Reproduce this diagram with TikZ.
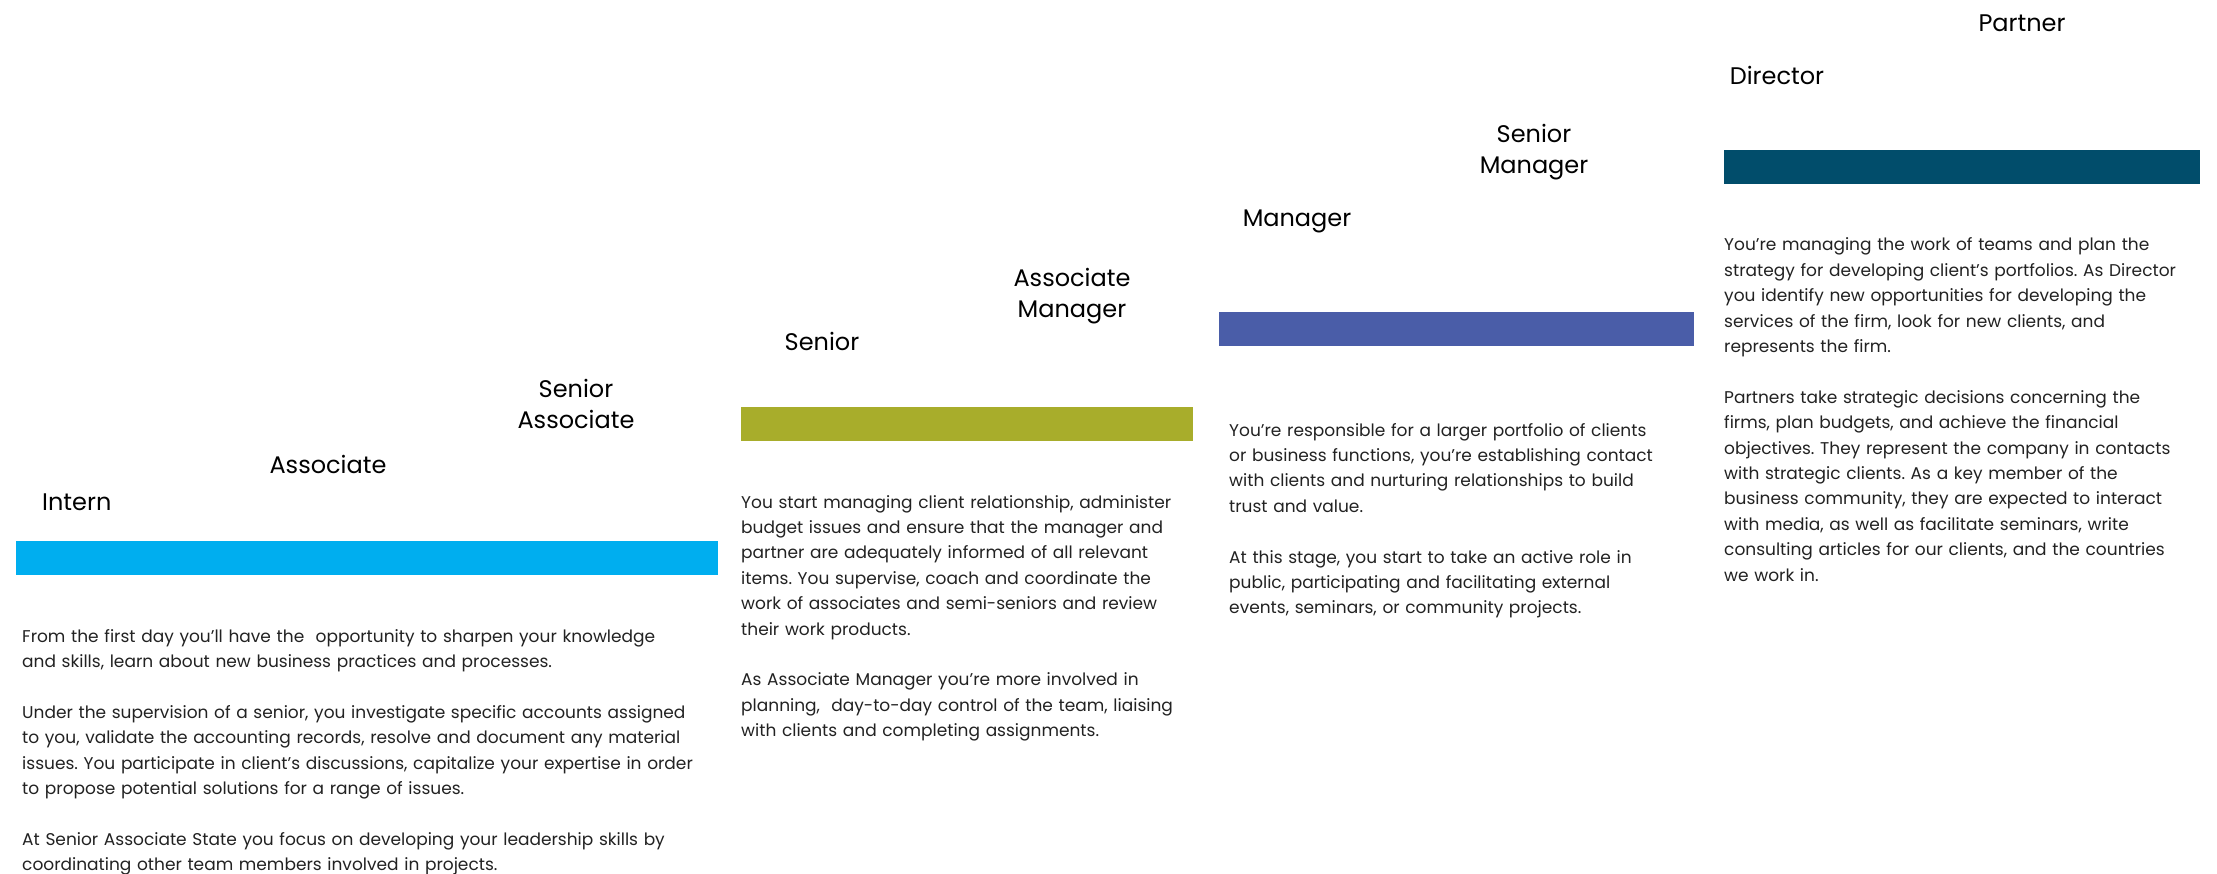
\documentclass[tikz,border=0pt]{standalone}
\usepackage{fontspec}
\setmainfont{Poppins}
\usepackage{tikz}

\definecolor{barcyan}{HTML}{00AEEF}
\definecolor{barolive}{HTML}{A8AD2B}
\definecolor{barindigo}{HTML}{4A5DA8}
\definecolor{barteal}{HTML}{014D6B}
\definecolor{textgray}{HTML}{222222}

\tikzset{
  stagebar/.style={fill=#1, draw=none, inner sep=0pt, minimum height=34pt, anchor=north west},
  stagelabel/.style={font=\fontsize{24}{31}\selectfont, align=center, inner sep=0pt},
  stagetext/.style={font=\fontsize{17}{25.4}\selectfont\frenchspacing, text=textgray,
    align=left, text width=#1, inner sep=0pt, anchor=base west},
}

\begin{document}
\begin{tikzpicture}[x=1pt, y=-1pt]
  \useasboundingbox[fill=white] (0,0) rectangle (2217,874);
  % bars
  \node[stagebar=barcyan,   minimum width=702pt] (barintern)   at (16,541)   {};
  \node[stagebar=barolive,  minimum width=452pt] (barsenior)   at (741,407)  {};
  \node[stagebar=barindigo, minimum width=475pt] (barmanager)  at (1219,312) {};
  \node[stagebar=barteal,   minimum width=476pt] (bardirector) at (1724,150) {};
  % titles
  \node[stagelabel, anchor=west] (intern)   at (42,502)   {Intern};
  \node[stagelabel] (associate)             at (328,464)  {Associate};
  \node[stagelabel] (seniorassociate)       at (576,404)  {Senior\\Associate};
  \node[stagelabel] (senior)                at (822,341)  {Senior};
  \node[stagelabel] (associatemanager)      at (1072,296) {Associate\\Manager};
  \node[stagelabel] (manager)               at (1297,221) {Manager};
  \node[stagelabel] (seniormanager)         at (1534,152) {Senior\\Manager};
  \node[stagelabel] (director)              at (1777,75)  {Director};
  \node[stagelabel] (partner)               at (2022,23)  {Partner};
  % descriptions
  \node[stagetext=760pt] (textintern) at (22,642) {%
    From the first day you’ll have the~ opportunity to sharpen your knowledge\\
    and skills, learn about new business practices and processes.\\[25.4pt]
    Under the supervision of a senior, you investigate specific accounts assigned\\
    to you, validate the accounting records, resolve and document any material\\
    issues. You participate in client’s discussions, capitalize your expertise in order\\
    to propose potential solutions for a range of issues.\\[25.4pt]
    At Senior Associate State you focus on developing your leadership skills by\\
    coordinating other team members involved in projects.};
  \node[stagetext=520pt] (textsenior) at (741,508) {%
    You start managing client relationship, administer\\
    budget issues and ensure that the manager and\\
    partner are adequately informed of all relevant\\
    items. You supervise, coach and coordinate the\\
    work of associates and semi-seniors and review\\
    their work products.\\[25.4pt]
    As Associate Manager you’re more involved in\\
    planning,~ day-to-day control of the team, liaising\\
    with clients and completing assignments.};
  \node[stagetext=520pt] (textmanager) at (1229,436) {%
    You’re responsible for a larger portfolio of clients\\
    or business functions, you’re establishing contact\\
    with clients and nurturing relationships to build\\
    trust and value.\\[25.4pt]
    At this stage, you start to take an active role in\\
    public, participating and facilitating external\\
    events, seminars, or community projects.};
  \node[stagetext=560pt] (textdirector) at (1724,251) {%
    You’re managing the work of teams and plan the\\
    strategy for developing client’s portfolios. As Director\\
    you identify new opportunities for developing the\\
    services of the firm, look for new clients, and\\
    represents the firm.\\[25.4pt]
    Partners take strategic decisions concerning the\\
    firms, plan budgets, and achieve the financial\\
    objectives. They represent the company in contacts\\
    with strategic clients. As a key member of the\\
    business community, they are expected to interact\\
    with media, as well as facilitate seminars, write\\
    consulting articles for our clients, and the countries\\
    we work in.};
\end{tikzpicture}
\end{document}
